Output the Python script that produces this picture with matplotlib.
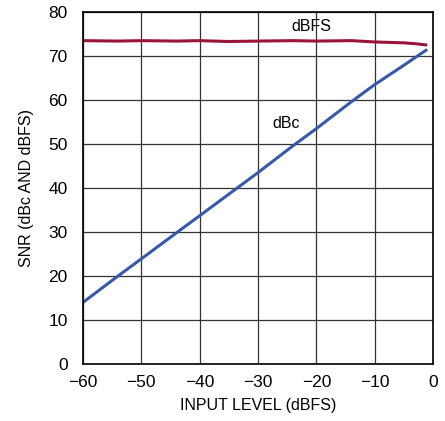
import matplotlib.pyplot as plt

# input level (dBFS)
level = [-60, -54, -50, -44, -40, -35, -30, -24, -20, -14, -10, -5, -3, -1]
# SNR referred to full scale
snr_dbfs = [73.5, 73.4, 73.5, 73.4, 73.5, 73.3, 73.4, 73.5, 73.4, 73.5, 73.2, 73.0, 72.8, 72.5]
# SNR referred to carrier
snr_dbc = [14.0, 20.0, 23.9, 29.8, 33.7, 38.6, 43.5, 49.6, 53.5, 59.6, 63.5, 67.9, 69.7, 71.5]

plt.rcParams['font.family'] = ['Liberation Sans', 'DejaVu Sans']

fig = plt.figure(figsize=(4.45, 4.21), dpi=100)
ax = fig.add_axes([0.1865, 0.1354, 0.7865, 0.836])

ax.plot(level, snr_dbfs, color='#98143a', lw=2.2, solid_capstyle='butt')
ax.plot(level, snr_dbc, color='#3a58a8', lw=2.2, solid_capstyle='butt')

ax.text(-20.9, 76.6, 'dBFS', ha='center', va='center', fontsize=11.5)
ax.text(-25.2, 54.6, 'dBc', ha='center', va='center', fontsize=11.5)

ax.set_xlim(-60, 0)
ax.set_ylim(0, 80)
ax.set_xticks(range(-60, 1, 10))
ax.set_xticklabels(['\u221260', '\u221250', '\u221240', '\u221230', '\u221220', '\u221210', '0'])
ax.set_yticks(range(0, 81, 10))
ax.tick_params(length=0, labelsize=12.5)
ax.tick_params(axis='x', pad=8)
ax.tick_params(axis='y', pad=11)
ax.grid(True, color='#333333', lw=0.9)
for s in ax.spines.values():
    s.set_color('black')
    s.set_linewidth(1.2)

ax.set_xlabel('INPUT LEVEL (dBFS)', fontsize=11.5, labelpad=6)
ax.set_ylabel('SNR (dBc AND dBFS)', fontsize=11.5, labelpad=10)

fig.savefig('out.png', dpi=100)
